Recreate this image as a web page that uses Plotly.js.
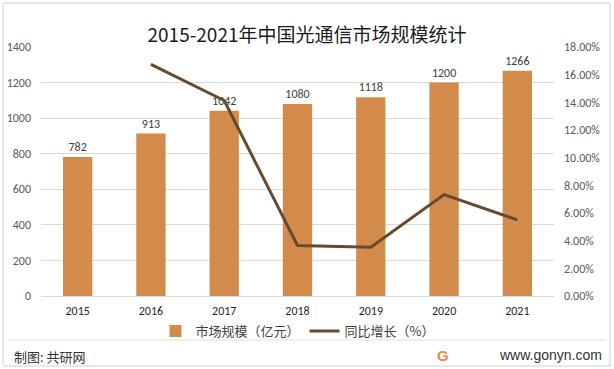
<!DOCTYPE html>
<html><head><meta charset="utf-8">
<script src="https://cdn.plot.ly/plotly-3.0.1.min.js"></script>
<style>html,body{margin:0;padding:0;background:#fff}#c{width:614px;height:369px}</style>
</head><body><div id="c"></div>
<script>
var years = ['2015','2016','2017','2018','2019','2020','2021'];
var marketSize = [782, 913, 1042, 1080, 1118, 1200, 1266];
var growthYears = ['2016','2017','2018','2019','2020','2021'];
var growthPct = [16.75, 14.13, 3.65, 3.52, 7.33, 5.50];
var leftTicks = [0,200,400,600,800,1000,1200,1400];
var rightTicks = [0,2,4,6,8,10,12,14,16,18];

var W=614,H=369,L=41,R=554,T=47,B=296;
function px(x){return (x-L)/(R-L);}
function py(y){return (B-y)/(B-T);}
var font='"Microsoft YaHei","Noto Sans CJK SC",sans-serif';
var numFont='Calibri, Carlito, "Liberation Sans", sans-serif';

var traces=[
 {type:'bar',x:years,y:marketSize,name:'市场规模（亿元）',marker:{color:'#D38B4C'},
  text:marketSize.map(String),textposition:'outside',cliponaxis:false,
  textfont:{size:12,color:'#404040',family:numFont},hoverinfo:'skip'},
 {type:'scatter',mode:'lines',x:growthYears,y:growthPct,yaxis:'y2',name:'同比增长（%）',
  line:{color:'#674A2E',width:3},hoverinfo:'skip'}
];
var layout={
 width:W,height:H,margin:{l:L,r:W-R,t:T,b:H-B,pad:0},
 paper_bgcolor:'#fff',plot_bgcolor:'#fff',
 font:{family:font,color:'#595959',size:12},
 title:{text:'2015-2021年中国光通信市场规模统计',x:0.5,xanchor:'center',y:1-35/H,yanchor:'middle',
   font:{size:19,color:'#1a1a1a',family:font,weight:'normal'}},
 bargap:0.6,showlegend:true,
 legend:{orientation:'h',x:0.5,xanchor:'center',y:py(331),yanchor:'middle',bgcolor:'rgba(0,0,0,0)',
   font:{size:13,color:'#404040',family:font},itemwidth:30,traceorder:'normal'},
 xaxis:{type:'category',showline:true,linecolor:'#d9d9d9',linewidth:1,ticks:'',
   tickfont:{size:12,color:'#262626',family:numFont},ticklabelstandoff:4},
 yaxis:{range:[0,1400],tickvals:leftTicks,ticktext:leftTicks.map(String),showgrid:true,gridcolor:'#d9d9d9',
   zeroline:false,tickfont:{size:12,color:'#595959',family:numFont},ticklabelstandoff:9},
 yaxis2:{range:[0,18],overlaying:'y',side:'right',tickvals:rightTicks,ticktext:rightTicks.map(function(v){return v.toFixed(2)+'%';}),
   showgrid:false,zeroline:false,tickfont:{size:12,color:'#595959',family:numFont},ticklabelstandoff:9},
 shapes:[
  {type:'rect',xref:'paper',yref:'paper',x0:px(3),x1:px(610),y0:py(3),y1:py(366),line:{color:'#d0d0d0',width:1}},
  {type:'line',xref:'paper',yref:'paper',x0:px(8),x1:px(606),y0:py(340),y1:py(340),line:{color:'#e0e0e0',width:1}}
 ],
 annotations:[
  {xref:'paper',yref:'paper',x:px(12),y:py(356),xanchor:'left',yanchor:'middle',showarrow:false,
   text:'制图: 共研网',font:{size:13,color:'#333',family:font}},
  {xref:'paper',yref:'paper',x:px(604),y:py(355),xanchor:'right',yanchor:'middle',showarrow:false,
   text:'www.gonyn.com',font:{size:14,color:'#333',family:'"Liberation Sans", Arial, sans-serif'}},
  {xref:'paper',yref:'paper',x:px(443),y:py(355),xanchor:'center',yanchor:'middle',showarrow:false,
   text:'<b>G</b>',font:{size:15,color:'#F08A3C',family:'"Liberation Sans", Arial, sans-serif'}}
 ]
};
Plotly.newPlot('c',traces,layout,{staticPlot:true});
</script></body></html>
